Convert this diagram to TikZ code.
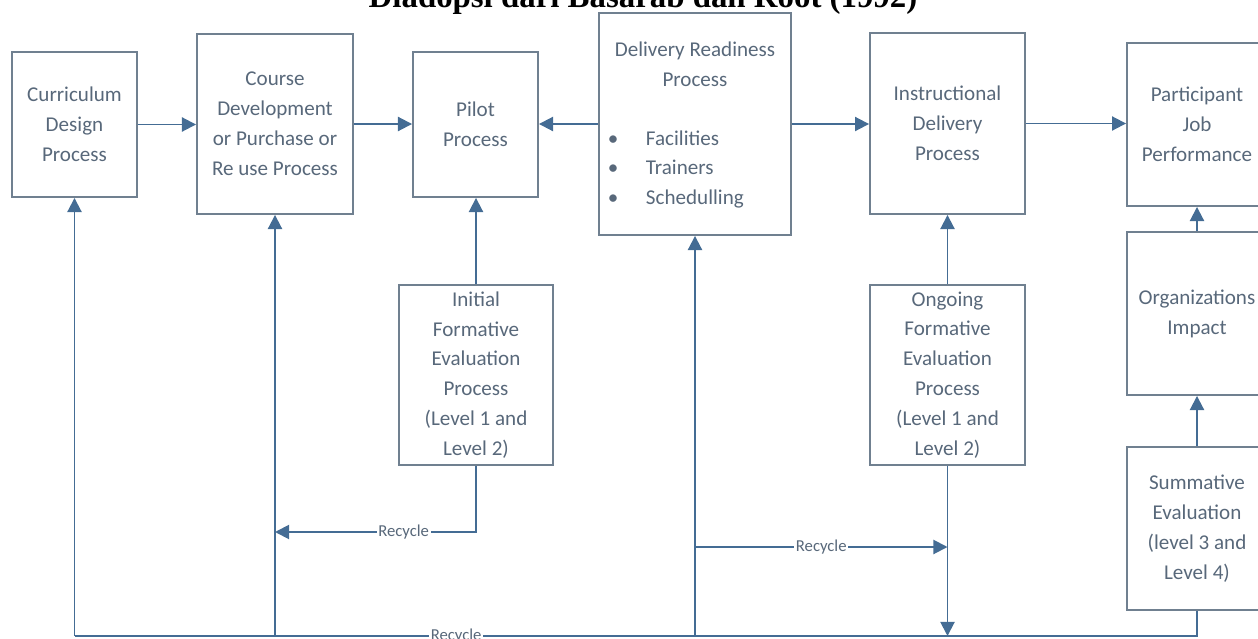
\documentclass[tikz,border=0pt]{standalone}
\usepackage{fontspec}
\setmainfont{Carlito}
\newfontfamily\titlefont{Liberation Serif}
\usetikzlibrary{arrows.meta}
\definecolor{boxline}{RGB}{112,128,144}
\definecolor{flowline}{RGB}{68,108,148}
\definecolor{boxtext}{RGB}{88,104,122}

\begin{document}
\begin{tikzpicture}[x=0.02cm, y=-0.02cm,
		procbox/.style={draw=boxline, line width=1.1pt, align=center, text=boxtext, inner sep=0pt,
			font=\fontsize{12}{17}\selectfont},
		flow/.style={draw=flowline, line width=1.1pt, -{Triangle[length=8pt,width=8pt]}},
		bus/.style={draw=flowline, line width=0.9pt},
		recycle/.style={fill=white, text=boxtext, inner sep=1pt, font=\fontsize{9.5}{11}\selectfont}]
		\useasboundingbox (0,0) rectangle (1258,639);
		% heading, cut by the top edge
		\node[anchor=base, font=\titlefont\bfseries\fontsize{18.7}{22}\selectfont] (title) at (643,8) {Diadopsi dari Basarab dan Root (1992)};
		% top row
		\node[procbox, minimum width=2.5cm, minimum height=2.9cm] (curr) at (74.5,124.5) {Curriculum\\Design\\Process};
		\node[procbox, minimum width=3.12cm, minimum height=3.6cm] (course) at (275,124) {Course\\Development\\or Purchase or\\Re use Process};
		\node[procbox, minimum width=2.5cm, minimum height=2.9cm] (pilot) at (475.5,124.5) {Pilot\\Process};
		\node[procbox, minimum width=3.84cm, minimum height=4.44cm] (ready) at (695,124) {};
		\node[procbox, draw=none] (readyhead) at (695,64) {Delivery Readiness\\Process};
		\node[procbox, draw=none, anchor=west] (readylist) at (607,169) {\begin{tabular}{@{}l@{\hspace{5.5mm}}l@{}}\textbullet & Facilities\\ \textbullet & Trainers\\ \textbullet & Schedulling\end{tabular}};
		\node[procbox, minimum width=3.1cm, minimum height=3.62cm] (instr) at (947.5,123.5) {Instructional\\Delivery\\Process};
		\node[procbox, minimum width=2.8cm, minimum height=3.26cm] (part) at (1197,124.5) {Participant\\Job\\Performance};
		% evaluation boxes
		\node[procbox, minimum width=3.08cm, minimum height=3.6cm] (initial) at (476,375) {Initial\\Formative\\Evaluation\\Process\\(Level 1 and\\Level 2)};
		\node[procbox, minimum width=3.1cm, minimum height=3.6cm] (ongoing) at (947.5,375) {Ongoing\\Formative\\Evaluation\\Process\\(Level 1 and\\Level 2)};
		\node[procbox, minimum width=2.8cm, minimum height=3.26cm] (org) at (1197,313.5) {Organizations\\Impact};
		\node[procbox, minimum width=2.8cm, minimum height=3.26cm] (summ) at (1197,528.5) {Summative\\Evaluation\\(level 3 and\\Level 4)};
		% forward arrows
		\draw[flow] (curr.east) -- (curr.east -| course.west);
		\draw[flow] (course.east) -- (course.east -| pilot.west);
		\draw[flow] (ready.west) -- (ready.west -| pilot.east);
		\draw[flow] (ready.east) -- (ready.east -| instr.west);
		\draw[flow] (instr.east) -- (instr.east -| part.west);
		\draw[flow] (org.north) -- (part.south);
		\draw[flow] (summ.north) -- (org.south);
		\draw[flow] (initial.north) -- (initial.north |- pilot.south);
		\draw[flow] (ongoing.north) -- (ongoing.north |- instr.south);
		% recycle loops
		\coordinate (busline) at (0,636);
		\coordinate (loopA) at (0,532);
		\coordinate (loopB) at (0,547);
		\draw[flow] (initial.south) |- node[recycle, pos=0.68] {Recycle} (course.south |- loopA);
		\draw[bus] (summ.south) |- node[recycle, pos=0.83] {Recycle} (curr.south |- busline);
		\draw[flow] (curr.south |- busline) -- (curr.south);
		\draw[flow] (course.south |- busline) -- (course.south);
		\draw[flow] (ready.south |- busline) -- (ready.south);
		\draw[flow] (ready.south |- loopB) -- node[recycle] {Recycle} (ongoing.south |- loopB);
		\draw[flow] (ongoing.south) -- (ongoing.south |- busline);
\end{tikzpicture}
\end{document}
